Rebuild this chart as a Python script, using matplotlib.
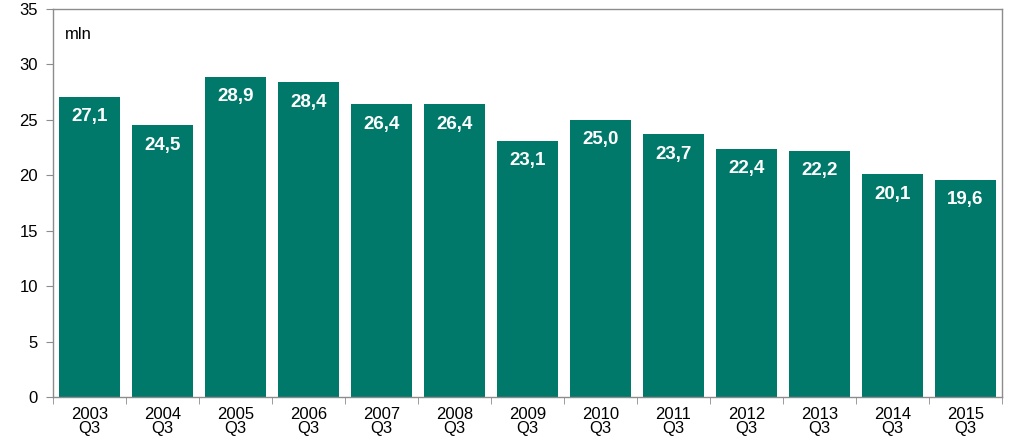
import matplotlib.pyplot as plt
import numpy as np

plt.rcParams['font.family'] = ['Liberation Sans', 'DejaVu Sans']

years = ['2003', '2004', '2005', '2006', '2007', '2008', '2009',
         '2010', '2011', '2012', '2013', '2014', '2015']
values = [27.1, 24.5, 28.9, 28.4, 26.4, 26.4, 23.1,
          25.0, 23.7, 22.4, 22.2, 20.1, 19.6]
labels = [y + '\nQ3' for y in years]

bar_color = '#00796B'
frame_color = '#8c8c8c'

fig = plt.figure(figsize=(10.24, 4.46), dpi=100)
ax = fig.add_axes([0.0518, 0.110, 0.9267, 0.870])

x = np.arange(len(values))
ax.bar(x, values, width=0.83, color=bar_color, zorder=2)

for xi, v in zip(x, values):
    ax.text(xi, v - 1.8, f'{v:.1f}'.replace('.', ','), ha='center', va='center',
            color='white', fontsize=13.5, fontweight='bold')

ax.set_xlim(-0.5, len(values) - 0.5)
ax.set_ylim(0, 35)
ax.set_yticks(np.arange(0, 36, 5))
ax.tick_params(axis='y', labelsize=12, length=5, color=frame_color, pad=6)

ax.set_xticks(x)
ax.set_xticklabels(labels, fontsize=12, linespacing=0.95)
ax.tick_params(axis='x', length=0, pad=7)
ax.set_xticks(np.arange(-0.5, len(values)), minor=True)
ax.tick_params(axis='x', which='minor', length=5, color=frame_color)

for s in ax.spines.values():
    s.set_color(frame_color)
    s.set_linewidth(1.0)

ax.text(0.012, 0.935, 'mln', transform=ax.transAxes, fontsize=12, ha='left', va='center')

fig.savefig('out.png', dpi=100)
